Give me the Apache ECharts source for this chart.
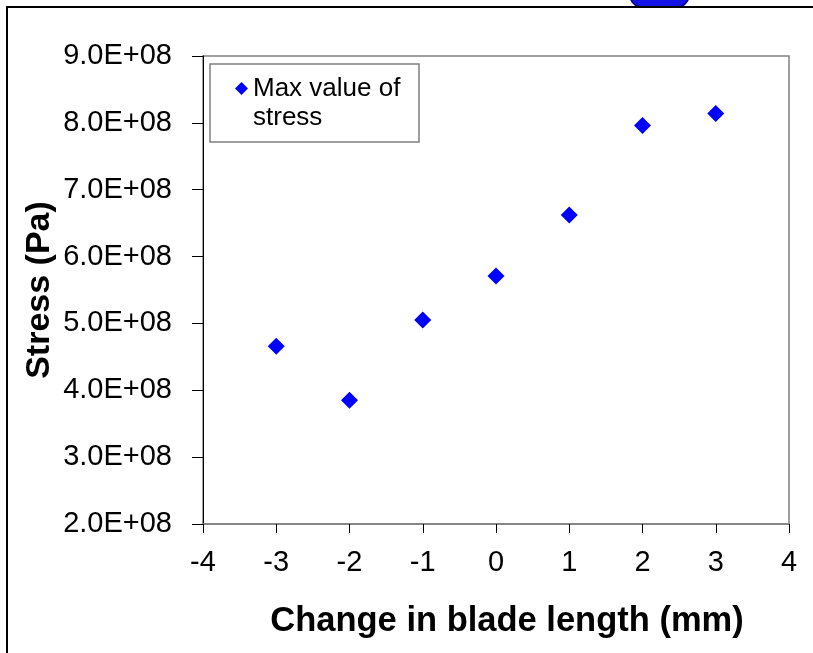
<!DOCTYPE html>
<html>
<head>
<meta charset="utf-8">
<script src="https://cdn.jsdelivr.net/npm/echarts@6/dist/echarts.min.js"></script>
<style>html,body{margin:0;padding:0;background:#fff;}#c{width:813px;height:653px;}</style>
</head>
<body>
<div id="c"></div>
<script>
// Data
var changeInLength = [-3, -2, -1, 0, 1, 2, 3];
var maxStress = [4.66e8, 3.85e8, 5.05e8, 5.71e8, 6.62e8, 7.96e8, 8.14e8];
var seriesName = 'Max value of\nstress';
var xTicks = ['-4', '-3', '-2', '-1', '0', '1', '2', '3', '4'];
var yTicks = ['2.0E+08', '3.0E+08', '4.0E+08', '5.0E+08', '6.0E+08', '7.0E+08', '8.0E+08', '9.0E+08'];
var xTitle = 'Change in blade length (mm)';
var yTitle = 'Stress (Pa)';

var FONT = "'Liberation Sans', Arial, sans-serif";
var chart = echarts.init(document.getElementById('c'), null, {renderer: 'canvas'});
var points = changeInLength.map(function (x, i) { return [x, maxStress[i]]; });

chart.setOption({
  animation: false,
  backgroundColor: '#ffffff',
  grid: {
    left: 203, right: 24, top: 56, bottom: 129,
    show: true, borderColor: '#808080', borderWidth: 1.5, backgroundColor: 'transparent'
  },
  legend: {
    left: 235, top: 45, padding: 0,
    itemWidth: 13, itemHeight: 13,
    icon: 'diamond',
    data: [seriesName],
    formatter: function (name) { return ' \n' + name; },
    textStyle: {
      fontFamily: FONT, fontSize: 26, color: '#000', lineHeight: 29
    }
  },
  xAxis: {
    type: 'value', min: -4, max: 4, interval: 1,
    name: xTitle, nameLocation: 'middle', nameGap: 80, nameMoveOverlap: false,
    nameTextStyle: { fontFamily: FONT, fontSize: 34.5, fontWeight: 'bold', color: '#000', padding: [0, 0, 0, 22] },
    axisLine: { show: true, onZero: false, lineStyle: { color: '#808080', width: 1.5 } },
    axisTick: { show: true, inside: false, length: 9, lineStyle: { color: '#000', width: 1 } },
    axisLabel: {
      margin: 24, fontFamily: FONT, fontSize: 29, color: '#000',
      formatter: function (v) { return xTicks[Math.round(v + 4)]; }
    },
    splitLine: { show: false }
  },
  yAxis: {
    type: 'value', min: 2e8, max: 9e8, interval: 1e8,
    name: yTitle, nameLocation: 'middle', nameGap: 146, nameRotate: 90, nameMoveOverlap: false,
    nameTextStyle: { fontFamily: FONT, fontSize: 34, fontWeight: 'bold', color: '#000' },
    axisLine: { show: true, onZero: false, lineStyle: { color: '#000', width: 1 } },
    axisTick: { show: true, inside: false, length: 11, lineStyle: { color: '#000', width: 1 } },
    axisLabel: {
      margin: 31, fontFamily: FONT, fontSize: 29, color: '#000',
      formatter: function (v) { return yTicks[Math.round((v - 2e8) / 1e8)]; }
    },
    splitLine: { show: false }
  },
  series: [{
    name: seriesName,
    type: 'scatter',
    symbol: 'diamond',
    symbolSize: 17,
    itemStyle: { color: '#0000ff', opacity: 1 },
    data: points
  }],
  graphic: [
    { type: 'rect', z: 50, silent: true,
      shape: { x: 210, y: 64, width: 209, height: 78 },
      style: { fill: 'none', stroke: '#808080', lineWidth: 1.5 } },
    { type: 'rect', z: 50, silent: true,
      shape: { x: 630, y: -20, width: 59, height: 27, r: [0, 0, 12, 12] },
      style: { fill: '#1414e6', stroke: '#00007a', lineWidth: 1.5 } },
    { type: 'line', z: 60, silent: true,
      shape: { x1: 6, y1: 7, x2: 813, y2: 7 },
      style: { stroke: '#000', lineWidth: 2 } },
    { type: 'line', z: 60, silent: true,
      shape: { x1: 7, y1: 6, x2: 7, y2: 653 },
      style: { stroke: '#000', lineWidth: 2 } }
  ]
});
</script>
</body>
</html>
